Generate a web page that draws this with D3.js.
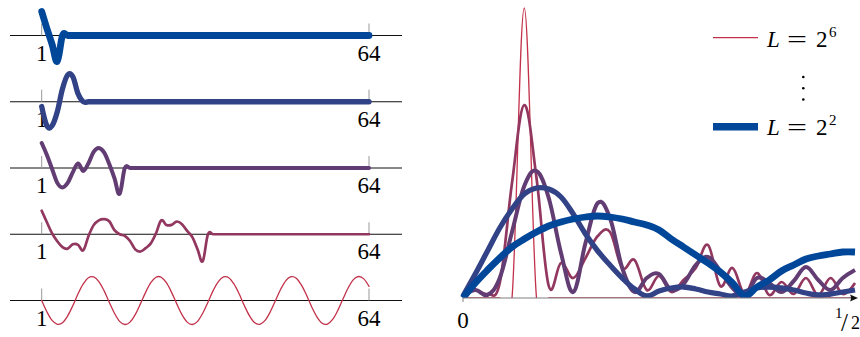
<!DOCTYPE html>
<html>
<head>
<meta charset="utf-8">
<script src="https://cdn.jsdelivr.net/npm/d3@7"></script>
<style>
    body { margin: 0; background: #fff; }
    svg { display: block; }
    text { fill: #000; }
</style>
</head>
<body>
<script>
// filter lengths, top panel to bottom panel
var lengths = [4, 8, 16, 32, 64];
var legendLabels = ["6", "2"]; // exponents shown in the legend (L = 2^6 ... L = 2^2)

// filter taps (unit = amplitude of the L=64 sinusoid)
var taps4 = [1.0, 0.29, -0.37, -1.08];
var taps8 = [-0.2, -1.0, -1.0, -0.42, 0.54, 1.12, 1.04, 0.33];
var taps16 = [1.04, 0.54, -0.04, -0.62, -0.81, -0.62, -0.17, 0.19,
    -0.12, 0.2, 0.67, 0.83, 0.65, 0.17, -0.42, -1.08];
var taps32 = [0.98, 0.5, 0.04, -0.29, -0.54, -0.6, -0.42, -0.44,
    -0.67, -0.08, 0.38, 0.58, 0.63, 0.54, 0.17, 0,
    -0.07, -0.28, -0.63, -0.72, -0.58, -0.38, 0.04, 0.58,
    0.39, 0.39, 0.53, 0.42, 0.14, -0.12, -0.63, -1.12];
var taps64 = [0, -0.47, -0.83, -0.99, -0.93, -0.64, -0.21, 0.28,
    0.69, 0.95, 0.98, 0.79, 0.41, -0.07, -0.53, -0.87,
    -1.0, -0.9, -0.59, -0.14, 0.34, 0.74, 0.97, 0.97,
    0.74, 0.34, -0.14, -0.59, -0.9, -1.0, -0.87, -0.53,
    -0.07, 0.41, 0.79, 0.98, 0.95, 0.69, 0.28, -0.21,
    -0.64, -0.93, -0.99, -0.83, -0.47, 0, 0.47, 0.83,
    0.99, 0.93, 0.64, 0.21, -0.28, -0.69, -0.95, -0.98,
    -0.79, -0.41, 0.07, 0.53, 0.87, 1.0, 0.9, 0.59];
var taps = [taps4, taps8, taps16, taps32, taps64];

// magnitude spectra at the bins k/64, k = 0..32
var spec4 = [0, 15, 28, 40, 51, 59, 66, 72, 76, 79, 81, 82, 81, 79, 76, 73,
    68, 59, 51, 43, 35, 26, 15, 2, 11, 18, 27, 33, 39, 42, 44, 46, 46];
var spec8 = [2, 24, 47, 70, 89, 104, 110, 109, 101, 84, 64, 47, 33, 20, 9, 2,
    7, 10, 11, 9, 6, 4, 2, 6, 10, 11, 10, 8, 5, 3, 4, 6, 8];
var spec16 = [2, 8, 3, 20, 66, 112, 127, 100, 45, 6, 55, 95, 80, 30, 6, 20,
    24, 8, 14, 33, 41, 27, 10, 2, 20, 15, 6, 17, 31, 18, 8, 20, 28];
var spec32 = [2, 8, 4, 15, 115, 193, 120, 12, 35, 20, 40, 62, 66, 30, 38, 8,
    22, 6, 18, 30, 53, 12, 30, 4, 25, 3, 16, 4, 20, 3, 20, 4, 15];
var spec64 = [0, 0, 0, 0, 0, 290, 0, 0, 0, 0, 0, 0, 0, 0, 0, 0,
    0, 0, 0, 0, 0, 0, 0, 0, 0, 0, 0, 0, 0, 0, 0, 0, 0];
var specs = [spec4, spec8, spec16, spec32, spec64];
var binFreqs = d3.range(33).map(function (k) { return k / 64; });

var indexTicks = [1, 64];

var blue = "#00479a", red = "#c3324b";
var colorOf = function (i) { return d3.interpolateRgb(blue, red)(i / 4); };
var widths = [6.8, 5.3, 4, 2.7, 1.3];
var serif = "'Liberation Serif', 'Times New Roman', Tinos, 'DejaVu Serif', serif";

var svg = d3.select("body").append("svg")
    .attr("width", 860)
    .attr("height", 337)
    .attr("font-family", serif);

var smooth = d3.curveCardinal.tension(-0.1);

// ---- left: the five filters ----
var xs = d3.scaleLinear().domain([1, 64]).range([41.7, 369]);
var ys = d3.scaleLinear().domain([-1, 1]).range([24, -24]);
var panelTop = 35.5, panelStep = 66.25;

lengths.forEach(function (L, i) {
    var g = svg.append("g")
        .attr("transform", "translate(0," + (panelTop + i * panelStep) + ")");

    g.append("line")
        .attr("x1", 10).attr("x2", 402)
        .attr("y1", 0).attr("y2", 0)
        .attr("stroke", "#111").attr("stroke-width", 1);

    indexTicks.forEach(function (t) {
        g.append("line")
            .attr("x1", xs(t)).attr("x2", xs(t))
            .attr("y1", -12).attr("y2", 0)
            .attr("stroke", "#999").attr("stroke-width", 1);
        g.append("text")
            .attr("x", xs(t)).attr("y", 25)
            .attr("text-anchor", "middle")
            .attr("font-family", serif)
            .style("font-size", "23px")
            .text(t);
    });

    var padded = taps[i].slice();
    while (padded.length < 64) padded.push(0);

    var line = d3.line()
        .x(function (d, j) { return xs(j + 1); })
        .y(function (d) { return ys(d); })
        .curve(smooth);

    g.append("path")
        .attr("d", line(padded))
        .attr("fill", "none")
        .attr("stroke", colorOf(i))
        .attr("stroke-width", widths[i])
        .attr("stroke-linejoin", "round")
        .attr("stroke-linecap", "round");
});

// ---- right: the spectra ----
var fx = d3.scaleLinear().domain([0, 0.5]).range([463, 855]);
var fy = d3.scaleLinear().domain([0, 290]).range([298, 8]);

svg.append("clipPath").attr("id", "plotclip")
    .append("rect")
    .attr("x", 455).attr("y", 0)
    .attr("width", 405).attr("height", fy(0));

var specG = svg.append("g").attr("clip-path", "url(#plotclip)");

var specLine = d3.line()
    .x(function (d, k) { return fx(binFreqs[k]); })
    .y(function (d) { return fy(d); })
    .curve(smooth);

for (var i = 4; i >= 0; i--) {
    specG.append("path")
        .attr("d", specLine(specs[i]))
        .attr("fill", "none")
        .attr("stroke", colorOf(i))
        .attr("stroke-width", widths[i])
        .attr("stroke-linejoin", "round");
}

// x axis with arrow
svg.append("line")
    .attr("x1", fx(0)).attr("x2", 852)
    .attr("y1", fy(0)).attr("y2", fy(0))
    .attr("stroke", "#808080").attr("stroke-width", 1.2);
svg.append("path")
    .attr("d", "M858," + fy(0) + "L850," + (fy(0) - 3.5) + "Q852," + fy(0) + " 850," + (fy(0) + 3.5) + "Z")
    .attr("fill", "#111");
svg.append("line")
    .attr("x1", fx(0)).attr("x2", fx(0))
    .attr("y1", fy(0)).attr("y2", fy(0) + 4)
    .attr("stroke", "#808080").attr("stroke-width", 1);

svg.append("text")
    .attr("x", fx(0)).attr("y", 328)
    .attr("text-anchor", "middle")
    .attr("font-family", serif)
    .style("font-size", "23px")
    .text("0");

var half = svg.append("text").attr("x", 835).attr("y", 318).attr("font-family", serif);
half.append("tspan").style("font-size", "15px").text("1");
half.append("tspan").attr("x", 841).attr("y", 331).style("font-size", "25px").text("/");
half.append("tspan").attr("x", 851).attr("y", 329).style("font-size", "18px").text("2");

// ---- legend ----
var legendRows = [
    {y: 37.7, base: 46.7, i: 4, exp: legendLabels[0]},
    {y: 126.7, base: 135, i: 0, exp: legendLabels[1]}
];
legendRows.forEach(function (r) {
    svg.append("line")
        .attr("x1", 713).attr("x2", 758)
        .attr("y1", r.y).attr("y2", r.y)
        .attr("stroke", colorOf(r.i))
        .attr("stroke-width", r.i === 0 ? 7.5 : widths[r.i]);
    svg.append("text")
        .attr("x", 767).attr("y", r.base)
        .attr("font-family", serif)
        .style("font-size", "23px").style("font-style", "italic")
        .text("L");
    svg.append("text")
        .attr("x", 787).attr("y", r.base)
        .attr("textLength", 20).attr("lengthAdjust", "spacingAndGlyphs")
        .attr("font-family", serif)
        .style("font-size", "23px")
        .text("=");
    svg.append("text")
        .attr("x", 816).attr("y", r.base)
        .attr("font-family", serif)
        .style("font-size", "23px")
        .text("2");
    svg.append("text")
        .attr("x", 829).attr("y", r.base - 10)
        .attr("font-family", serif)
        .style("font-size", "15px")
        .text(r.exp);
});

[77, 88.3, 99.5].forEach(function (y) {
    svg.append("circle")
        .attr("cx", 803.3).attr("cy", y).attr("r", 1.3)
        .attr("fill", "#000");
});
</script>
</body>
</html>
